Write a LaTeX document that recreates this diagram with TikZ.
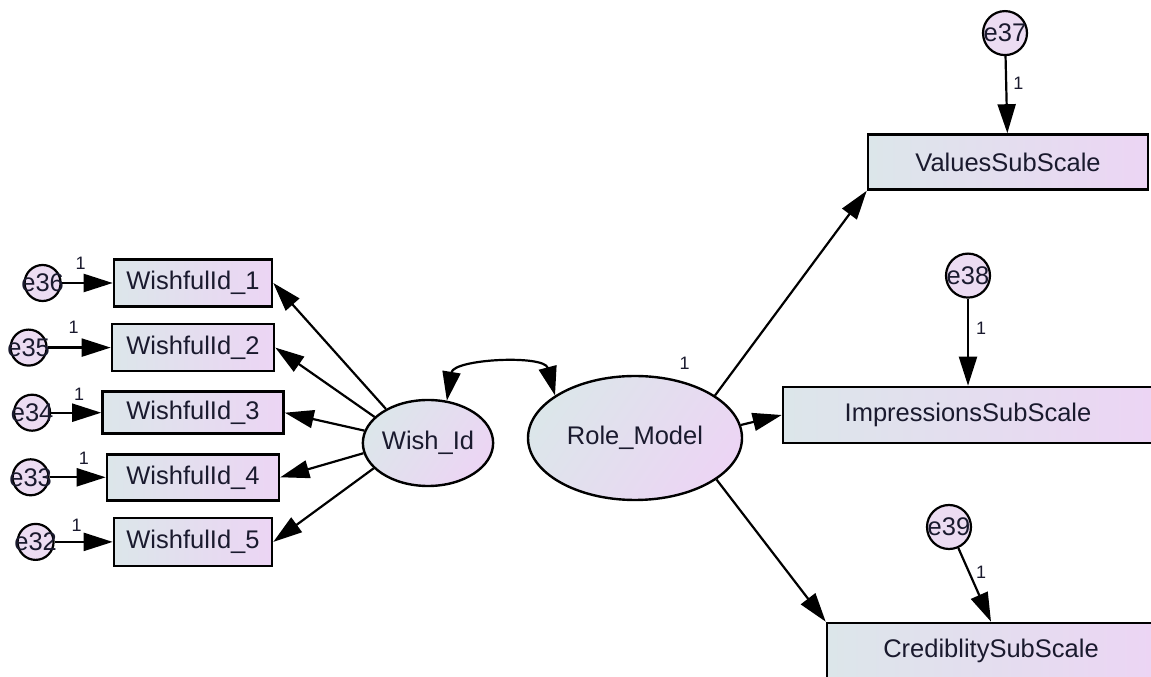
\documentclass[tikz,border=0pt]{standalone}
\usepackage{fontspec}
\setmainfont{Liberation Sans}
\usetikzlibrary{positioning, shapes.geometric, arrows.meta}
\definecolor{boxleft}{HTML}{DCE6EA}
\definecolor{boxright}{HTML}{ECD5F4}
\definecolor{errfill}{HTML}{ECDCF2}
\definecolor{ink}{HTML}{1A1A2E}

\begin{document}
\begin{tikzpicture}[x=1pt, y=1pt,
        obs/.style={draw, line width=2.6pt, left color=boxleft, right color=boxright, inner sep=0pt, text=ink, font=\fontsize{25.5}{30}\selectfont},
        lat/.style={draw, ellipse, line width=2.4pt, top color=boxleft, bottom color=boxright, shading angle=55, inner sep=0pt, text=ink, font=\fontsize{25.5}{30}\selectfont},
        err/.style={draw, circle, line width=2.2pt, fill=errfill, minimum size=36pt, inner sep=0pt, label={[text=ink, font=\fontsize{25.5}{30}\selectfont]center:#1}},
        errbig/.style={err=#1, minimum size=44pt},
        lbl/.style={inner sep=0pt, text=ink, font=\fontsize{18}{20}\selectfont},
        arr/.style={-{Triangle[length=29pt, width=18pt]}, line width=2.2pt},
        cov/.style={{Triangle[length=29pt, width=18pt]}-{Triangle[length=29pt, width=18pt]}, line width=2.2pt},
    ]
    \useasboundingbox (0,0) rectangle (1151,677);
    \clip (0,0) rectangle (1151,677);

    % Wish_Id indicators
    \node[obs, minimum width=158pt, minimum height=47pt] (w1) at (193,394) {WishfulId\_1};
    \node[obs, minimum width=162pt, minimum height=47pt, below=15pt of w1] (w2) {WishfulId\_2};
    \node[obs, minimum width=181pt, minimum height=42pt, below=18pt of w2] (w3) {WishfulId\_3};
    \node[obs, minimum width=172pt, minimum height=46pt, below=18pt of w3] (w4) {WishfulId\_4};
    \node[obs, minimum width=158pt, minimum height=48pt, below=15pt of w4] (w5) {WishfulId\_5};

    % Role_Model indicators
    \node[obs, minimum width=280pt, minimum height=55pt] (vals) at (1008,515) {ValuesSubScale};
    \node[obs, minimum width=370pt, minimum height=56pt] (imp) at (968,262) {ImpressionsSubScale};
    \node[obs, minimum width=328pt, minimum height=56pt] (cred) at (991,26) {CrediblitySubScale};

    % Latent factors
    \node[lat, minimum width=118pt, minimum height=86pt] (wish) at (428,234) {Wish\_Id};
    \node[lat, minimum width=214pt, minimum height=124pt, label={[lbl, label distance=11pt]57:1}] (role) at (635,239) {Role\_Model};

    % Error terms
    \node[err=e36, left=51pt of w1] (e36) {};
    \node[err=e35, left=63pt of w2] (e35) {};
    \node[err=e34, left=50pt of w3] (e34) {};
    \node[err=e33, left=56pt of w4] (e33) {};
    \node[err=e32, left=58pt of w5] (e32) {};
    \node[errbig=e37, above=77pt of vals, xshift=-3pt] (e37) {};
    \node[errbig=e38, above=87pt of imp] (e38) {};
    \node[errbig=e39] (e39) at (949,150) {};

    \draw[arr] (e36) -- (w1) node[lbl, pos=.37, above=12pt] {1};
    \draw[arr] (e35) -- (w2) node[lbl, pos=.41, above=13pt] {1};
    \draw[arr] (e34) -- (w3) node[lbl, pos=.56, above=11pt] {1};
    \draw[arr] (e33) -- (w4) node[lbl, pos=.61, above=12pt] {1};
    \draw[arr] (e32) -- (w5) node[lbl, pos=.38, above=9pt] {1};
    \draw[arr] (e37) -- (vals) node[lbl, pos=.35, right=6pt] {1};
    \draw[arr] (e38) -- (imp) node[lbl, pos=.34, right=7pt] {1};
    \draw[arr] (e39) -- (cred.north) node[lbl, pos=.33, right=6pt] {1};

    % Loadings
    \foreach \i/\a in {1/141, 2/154, 3/169, 4/189, 5/205}
        \draw[arr] (wish.\a) -- (w\i.east);
    \draw[arr] (role.28) -- (vals.south west);
    \draw[arr] (role.7) -- (imp.west);
    \draw[arr] (role.-27) -- (cred.north west);

    % Covariance
    \draw[cov] (wish.66) to[bend left=78] (role.152);
\end{tikzpicture}
\end{document}
